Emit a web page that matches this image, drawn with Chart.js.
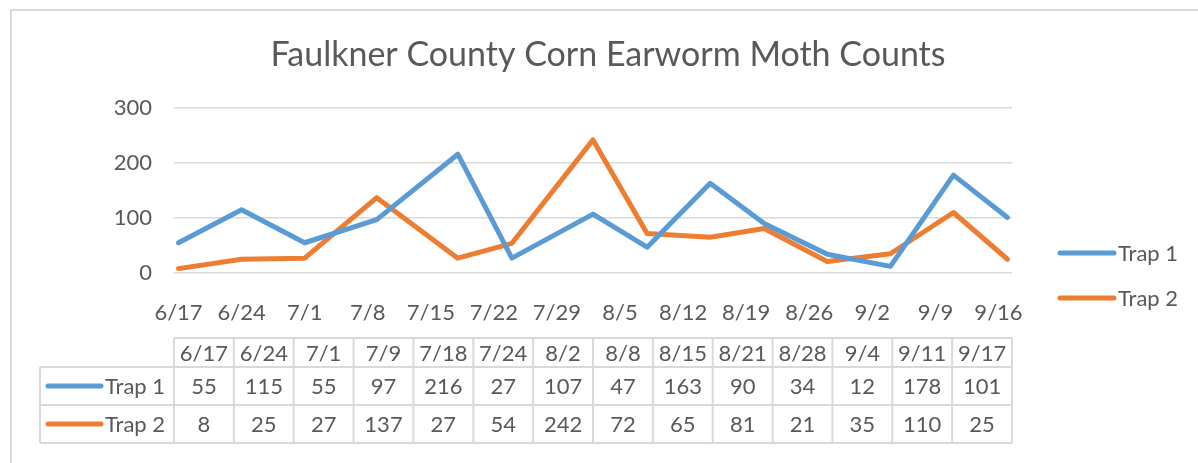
<!DOCTYPE html>
<html lang="en">
<head>
<meta charset="UTF-8">
<title>Faulkner County Corn Earworm Moth Counts</title>
<script src="https://cdn.jsdelivr.net/npm/chart.js@4.4.0/dist/chart.umd.min.js"></script>
<style>
  html, body { margin: 0; padding: 0; background: #fff; }
</style>
</head>
<body>
<canvas id="myChart" width="1198" height="463"></canvas>
<script>
// sample dates (data table columns) and counts
var sampleDates = ['6/17', '6/24', '7/1', '7/9', '7/18', '7/24', '8/2', '8/8', '8/15', '8/21', '8/28', '9/4', '9/11', '9/17'];
var trap1 = [55, 115, 55, 97, 216, 27, 107, 47, 163, 90, 34, 12, 178, 101];
var trap2 = [8, 25, 27, 137, 27, 54, 242, 72, 65, 81, 21, 35, 110, 25];
var seriesNames = ['Trap 1', 'Trap 2'];
var seriesColors = ['#5b9bd5', '#ed7d31'];
// weekly date axis labels
var axisLabels = ['6/17', '6/24', '7/1', '7/8', '7/15', '7/22', '7/29', '8/5', '8/12', '8/19', '8/26', '9/2', '9/9', '9/16'];
var titleText = 'Faulkner County Corn Earworm Moth Counts';

var FONT = 'Lato, "Open Sans", sans-serif';
var TEXT = '#595959';
var GRID = '#d9d9d9';

// days since the first sample
function dayOf(s) {
    var p = s.split('/');
    return (Date.UTC(2023, +p[0] - 1, +p[1]) - Date.UTC(2023, 5, 17)) / 86400000;
}

var seriesValues = [trap1, trap2];

function keyLine(ctx, x1, x2, y, color) {
    ctx.save();
    ctx.strokeStyle = color;
    ctx.lineWidth = 5;
    ctx.lineCap = 'round';
    ctx.beginPath();
    ctx.moveTo(x1, y);
    ctx.lineTo(x2, y);
    ctx.stroke();
    ctx.restore();
}

var extras = {
    id: 'extras',
    afterDraw: function (chart) {
        var ctx = chart.ctx;
        var area = chart.chartArea;
        ctx.save();

        // outer frame
        ctx.strokeStyle = GRID;
        ctx.lineWidth = 2;
        ctx.beginPath();
        ctx.moveTo(11, chart.height);
        ctx.lineTo(11, 10);
        ctx.lineTo(chart.width, 10);
        ctx.stroke();

        // title
        ctx.fillStyle = TEXT;
        ctx.font = '34px ' + FONT;
        ctx.textAlign = 'center';
        ctx.textBaseline = 'middle';
        ctx.fillText(titleText, 608, 55);

        // legend on the right
        ctx.font = '22px ' + FONT;
        ctx.textAlign = 'left';
        for (var i = 0; i < seriesNames.length; i++) {
            var ly = 253 + i * 45;
            keyLine(ctx, 1060, 1114, ly, seriesColors[i]);
            ctx.fillStyle = TEXT;
            ctx.fillText(seriesNames[i], 1118, ly + 1);
        }

        // data table
        var n = sampleDates.length;
        var colW = (area.right - area.left) / n;
        var top = 338, r1 = 367, r2 = 405, bot = 443, labLeft = 40;
        ctx.strokeStyle = GRID;
        ctx.lineWidth = 2;
        ctx.beginPath();
        ctx.moveTo(area.left, top); ctx.lineTo(area.right, top);
        [r1, r2, bot].forEach(function (y) {
            ctx.moveTo(labLeft, y); ctx.lineTo(area.right, y);
        });
        ctx.moveTo(labLeft, r1); ctx.lineTo(labLeft, bot);
        for (var c = 0; c <= n; c++) {
            var x = area.left + c * colW;
            ctx.moveTo(x, top); ctx.lineTo(x, bot);
        }
        ctx.stroke();

        ctx.fillStyle = TEXT;
        ctx.textAlign = 'center';
        for (var c = 0; c < n; c++) {
            var cx = area.left + (c + 0.5) * colW;
            ctx.fillText(sampleDates[c], cx, (top + r1) / 2 + 1);
            ctx.fillText(String(trap1[c]), cx, (r1 + r2) / 2 + 1);
            ctx.fillText(String(trap2[c]), cx, (r2 + bot) / 2 + 1);
        }
        var rows = [[r1, r2], [r2, bot]];
        for (var i = 0; i < seriesNames.length; i++) {
            var ry = (rows[i][0] + rows[i][1]) / 2;
            keyLine(ctx, 48, 101, ry, seriesColors[i]);
            ctx.fillStyle = TEXT;
            ctx.textAlign = 'left';
            ctx.fillText(seriesNames[i], 105, ry + 1);
        }
        ctx.restore();
    }
};

var datasets = seriesNames.map(function (name, i) {
    return {
        label: name,
        data: sampleDates.map(function (d, j) {
            return { x: dayOf(d), y: seriesValues[i][j] };
        }),
        borderColor: seriesColors[i],
        backgroundColor: seriesColors[i],
        borderWidth: 5,
        borderCapStyle: 'round',
        borderJoinStyle: 'round',
        pointRadius: 0,
        tension: 0
    };
});

new Chart(document.getElementById('myChart').getContext('2d'), {
    type: 'line',
    data: { datasets: datasets },
    options: {
        responsive: false,
        animation: false,
        devicePixelRatio: 1,
        layout: { padding: { left: 0, top: 108, right: 186, bottom: 140 } },
        plugins: {
            legend: { display: false },
            tooltip: { enabled: false }
        },
        scales: {
            x: {
                type: 'linear',
                min: -0.5,
                max: 92.5,
                afterBuildTicks: function (scale) {
                    scale.ticks = axisLabels.map(function (l) { return { value: dayOf(l) }; });
                },
                afterFit: function (scale) { scale.height = 50; },
                ticks: {
                    autoSkip: false,
                    maxRotation: 0,
                    padding: 19,
                    color: TEXT,
                    font: { family: FONT, size: 22 },
                    callback: function (v, i) { return axisLabels[i]; }
                },
                grid: { display: false },
                border: { display: false }
            },
            y: {
                min: 0,
                max: 300,
                afterFit: function (scale) { scale.width = 174; },
                ticks: {
                    stepSize: 100,
                    padding: 22,
                    color: TEXT,
                    font: { family: FONT, size: 22 }
                },
                grid: { color: GRID, lineWidth: 1.5, drawTicks: false },
                border: { display: false }
            }
        }
    },
    plugins: [extras]
});
</script>
</body>
</html>
